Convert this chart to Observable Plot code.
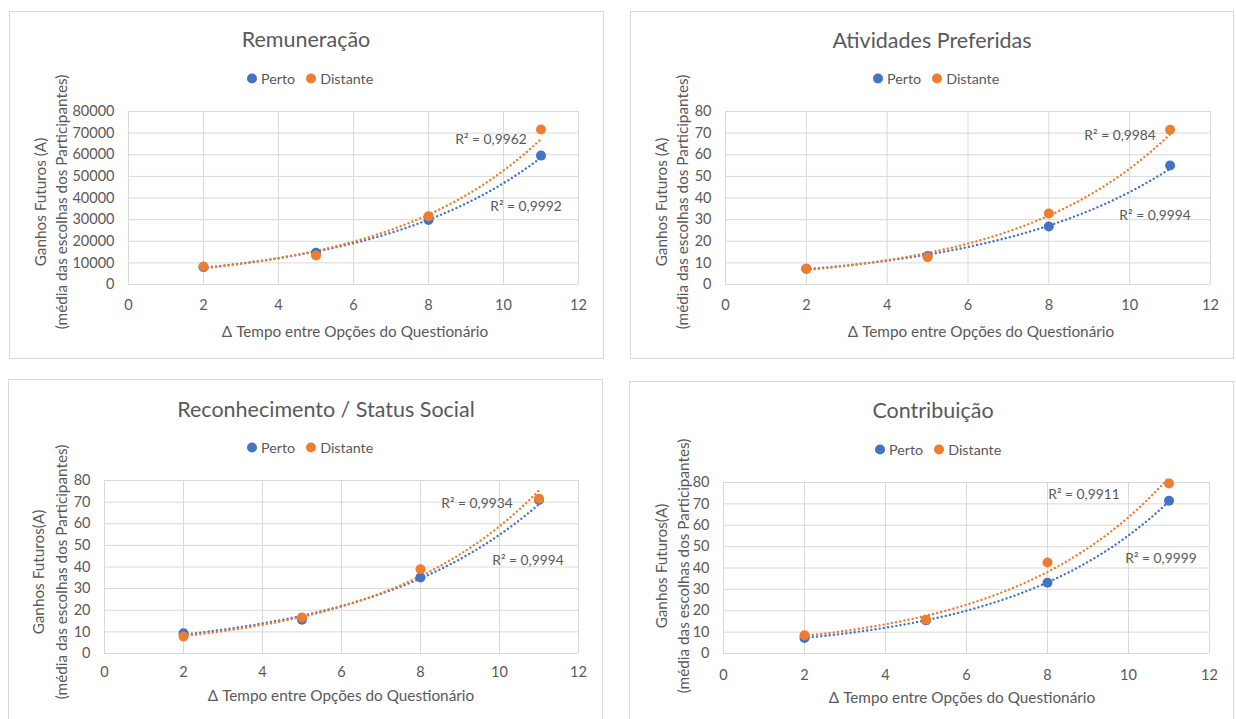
<!DOCTYPE html>
<html lang="pt">
<head>
<meta charset="utf-8">
<script src="https://cdn.jsdelivr.net/npm/d3@7"></script>
<script src="https://cdn.jsdelivr.net/npm/@observablehq/plot@0.6"></script>
<style>
  html, body { margin: 0; padding: 0; background: #fff; }
  body { position: relative; width: 1236px; height: 719px; overflow: hidden; font-family: Lato, "Open Sans", sans-serif; color: #595959; }
  .box { position: absolute; border: 1px solid #d9d9d9; box-sizing: border-box; }
  .abs { position: absolute; white-space: nowrap; }
  .title { font-size: 21.5px; transform: translate(-50%, -50%); }
  .xtitle { font-size: 15.3px; transform: translate(-50%, -50%); }
  .ytitle { font-size: 15.3px; transform: translate(-50%, -50%) rotate(-90deg); }
  .legend { font-size: 14.3px; display: flex; align-items: center; transform: translateY(-50%); }
  .legend .sw { width: 10px; height: 10px; border-radius: 50%; display: inline-block; margin-right: 4px; }
  .legend .item { display: flex; align-items: center; margin-right: 11px; }
  .plot { position: absolute; }
</style>
</head>
<body>
<script>
// Intervalo de tempo entre as opções do questionário
const gaps = [2, 5, 8, 11];
const xTicks = [0, 2, 4, 6, 8, 10, 12];
const ticksMoney = [0, 10000, 20000, 30000, 40000, 50000, 60000, 70000, 80000];
const ticksScore = [0, 10, 20, 30, 40, 50, 60, 70, 80];
const seriesNames = ["Perto", "Distante"];

// Média das escolhas dos participantes por categoria
const remuneracaoPerto = [8000, 14700, 29800, 59600];
const remuneracaoDistante = [8300, 13400, 31600, 71700];
const atividadesPerto = [7.3, 13.2, 26.8, 55];
const atividadesDistante = [7.3, 12.6, 32.8, 71.6];
const reconhecimentoPerto = [9.4, 15.6, 35.2, 71];
const reconhecimentoDistante = [7.9, 16.7, 39, 71.6];
const contribuicaoPerto = [7.3, 15.5, 33.1, 71.5];
const contribuicaoDistante = [8.5, 15.8, 42.6, 79.5];

// R² das linhas de tendência exponenciais [Perto, Distante]
const r2Remuneracao = ["0,9992", "0,9962"];
const r2Atividades = ["0,9994", "0,9984"];
const r2Reconhecimento = ["0,9994", "0,9934"];
const r2Contribuicao = ["0,9999", "0,9911"];

const titles = ["Remuneração", "Atividades Preferidas", "Reconhecimento / Status Social", "Contribuição"];
const yTitles = ["Ganhos Futuros (A)", "Ganhos Futuros (A)", "Ganhos Futuros(A)", "Ganhos Futuros(A)"];
const yTitle2 = "(média das escolhas dos Participantes)";
const xTitle = "Δ Tempo entre Opções do Questionário";

const colors = {Perto: "#4472C4", Distante: "#ED7D31"};

// Layout of each chart on the page (pixels)
const layout = [
  {box: [9, 11, 595, 348], area: [128, 578, 111, 284], title: [306, 39], legend: [247, 78], xt: [355, 331], tickPad: 15,
   yt: [40, 61, 202], r2off: {Perto: [-15, 49], Distante: [-50, 0]}},
  {box: [630, 11, 604, 348], area: [725, 1210, 111, 284], title: [932, 40], legend: [873, 78], xt: [981, 331], tickPad: 15,
   yt: [661, 682, 202], r2off: {Perto: [-15, 47], Distante: [-50, 1]}},
  {box: [8, 379, 595, 345], area: [104, 578, 480, 653], title: [326, 409], legend: [247, 447], xt: [341, 695], tickPad: 13,
   yt: [38, 61, 572], r2off: {Perto: [-11, 56], Distante: [-62, 13]}},
  {box: [629, 381, 605, 345], area: [723, 1209, 482, 653], title: [933, 410], legend: [875, 449], xt: [962, 697], tickPad: 16,
   yt: [661, 683, 566], r2off: {Perto: [-8, 57], Distante: [-85, 17]}}
];

const charts = [
  {perto: remuneracaoPerto, distante: remuneracaoDistante, r2: r2Remuneracao, yTicks: ticksMoney},
  {perto: atividadesPerto, distante: atividadesDistante, r2: r2Atividades, yTicks: ticksScore},
  {perto: reconhecimentoPerto, distante: reconhecimentoDistante, r2: r2Reconhecimento, yTicks: ticksScore},
  {perto: contribuicaoPerto, distante: contribuicaoDistante, r2: r2Contribuicao, yTicks: ticksScore}
];

// Exponential least-squares fit (ln y = a + b·x), as used by spreadsheet trendlines
function expFit(xs, ys) {
  const ly = ys.map(Math.log);
  const mx = d3.mean(xs), my = d3.mean(ly);
  const sxy = d3.sum(xs, (x, i) => (x - mx) * (ly[i] - my));
  const sxx = d3.sum(xs, x => (x - mx) ** 2);
  const b = sxy / sxx, a = my - b * mx;
  return x => Math.exp(a + b * x);
}

function el(cls, text, left, top) {
  const d = document.createElement("div");
  d.className = "abs " + cls;
  if (text != null) d.textContent = text;
  d.style.left = left + "px";
  d.style.top = top + "px";
  document.body.appendChild(d);
  return d;
}

const mL = 70, mR = 12, mT = 12, mB = 32;

charts.forEach((c, i) => {
  const L = layout[i];
  const [bx, by, bw, bh] = L.box;
  const box = el("box", null, bx, by);
  box.style.width = bw + "px";
  box.style.height = bh + "px";

  el("title", titles[i], L.title[0], L.title[1]);

  const lg = el("legend", null, L.legend[0], L.legend[1]);
  for (const s of seriesNames) {
    const it = document.createElement("span");
    it.className = "item";
    const sw = document.createElement("span");
    sw.className = "sw";
    sw.style.background = colors[s];
    it.appendChild(sw);
    it.appendChild(document.createTextNode(s));
    lg.appendChild(it);
  }

  el("xtitle", xTitle, L.xt[0], L.xt[1]);
  el("ytitle", yTitles[i], L.yt[0], L.yt[2]);
  el("ytitle", yTitle2, L.yt[1], L.yt[2]);

  const rows = [];
  seriesNames.forEach(s => {
    const ys = s === "Perto" ? c.perto : c.distante;
    gaps.forEach((g, k) => rows.push({series: s, x: g, y: ys[k]}));
  });

  const trendMarks = [];
  const dotMarks = [];
  const labelMarks = [];
  seriesNames.forEach((s, si) => {
    const ys = s === "Perto" ? c.perto : c.distante;
    const f = expFit(gaps, ys);
    const xs = d3.range(gaps[0], gaps[gaps.length - 1] + 1e-9, 0.1);
    const curve = xs.map(x => ({x, y: f(x)}));
    trendMarks.push(Plot.line(curve, {x: "x", y: "y", stroke: colors[s], strokeWidth: 2.4,
      strokeDasharray: "0.01 4.2", strokeLinecap: "round"}));
    dotMarks.push(Plot.dot(rows.filter(r => r.series === s), {x: "x", y: "y", r: 5, fill: colors[s]}));
    const xe = gaps[gaps.length - 1];
    labelMarks.push(Plot.text([{x: xe, y: f(xe), t: `R² = ${c.r2[si]}`}], {
      x: "x", y: "y", text: "t", dx: L.r2off[s][0], dy: L.r2off[s][1],
      fill: "#595959", fontSize: 13.8, textAnchor: "middle"
    }));
  });

  const [x0, x1, y0, y1] = L.area;
  const yMax = c.yTicks[c.yTicks.length - 1];
  const svg = Plot.plot({
    width: x1 - x0 + mL + mR,
    height: y1 - y0 + mT + mB,
    marginLeft: mL, marginRight: mR, marginTop: mT, marginBottom: mB,
    x: {domain: [0, 12]},
    y: {domain: [0, yMax]},
    style: {fontFamily: "Lato, 'Open Sans', sans-serif", fontSize: "14.5px", color: "#595959", background: "transparent", overflow: "visible"},
    marks: [
      Plot.gridX(xTicks, {stroke: "#d9d9d9", strokeOpacity: 1, strokeWidth: 1}),
      Plot.gridY(c.yTicks, {stroke: "#d9d9d9", strokeOpacity: 1, strokeWidth: 1}),
      Plot.axisX({ticks: xTicks, tickSize: 0, tickPadding: L.tickPad, label: null, tickFormat: d => String(d)}),
      Plot.axisY({ticks: c.yTicks, tickSize: 0, tickPadding: 14, label: null, tickFormat: d => String(d)}),
      ...trendMarks,
      ...dotMarks,
      ...labelMarks
    ]
  });
  const wrap = document.createElement("div");
  wrap.className = "plot";
  wrap.style.left = (x0 - mL) + "px";
  wrap.style.top = (y0 - mT) + "px";
  wrap.appendChild(svg);
  document.body.appendChild(wrap);
});
</script>
</body>
</html>
